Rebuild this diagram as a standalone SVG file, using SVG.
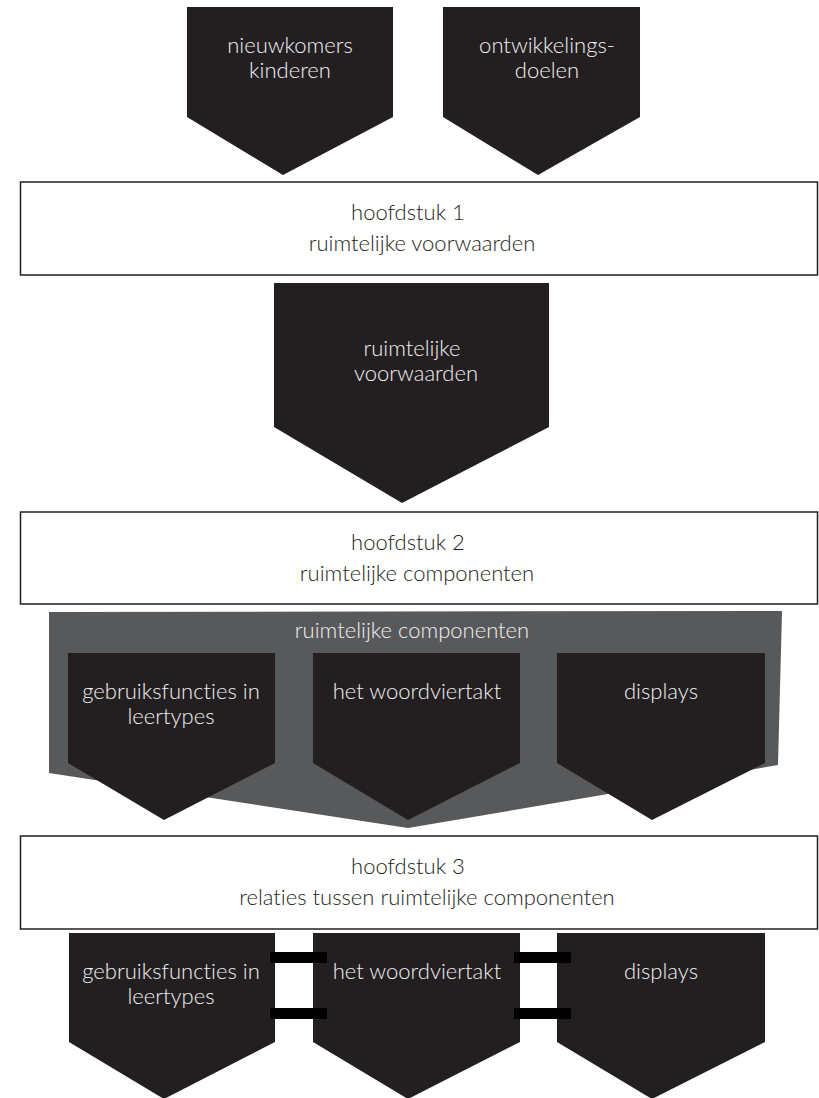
<svg xmlns="http://www.w3.org/2000/svg" width="819" height="1098" viewBox="0 0 819 1098">
<style>
.pent{fill:#231f20}
.box{fill:#ffffff;stroke:#231f20;stroke-width:1.5}
.lt,.dk{font-family:Lato,"Liberation Sans",sans-serif;font-size:22px;font-weight:300;text-anchor:middle;font-variant-ligatures:none}
.lt{fill:#f0f0f0}
.dk{fill:#231f20}
.bar{fill:#000000}
</style>
<rect width="819" height="1098" fill="#ffffff"/>
<g id="node-nieuwkomers">
<polygon class="pent" points="187,7 393,7 393,117 283,175 187,117"/>
<text class="lt" x="290" y="53">nieuwkomers</text>
<text class="lt" x="290" y="78">kinderen</text>
</g>
<g id="node-ontwikkelingsdoelen">
<polygon class="pent" points="443,7 640,7 640,117 538,175 443,117"/>
<text class="lt" x="547" y="53">ontwikkelings-</text>
<text class="lt" x="547" y="78">doelen</text>
</g>
<g id="node-hoofdstuk1">
<rect class="box" x="20.5" y="182" width="797" height="93"/>
<text class="dk" x="408" y="220">hoofdstuk 1</text>
<text class="dk" x="422" y="251">ruimtelijke voorwaarden</text>
</g>
<g id="node-ruimtelijke-voorwaarden">
<polygon class="pent" points="274,283 549,283 549,427 402,503 274,427"/>
<text class="lt" x="412" y="356">ruimtelijke</text>
<text class="lt" x="416" y="381">voorwaarden</text>
</g>
<g id="node-hoofdstuk2">
<rect class="box" x="20.5" y="512" width="797" height="92"/>
<text class="dk" x="408" y="550">hoofdstuk 2</text>
<text class="dk" x="417" y="581">ruimtelijke componenten</text>
</g>
<g id="node-ruimtelijke-componenten">
<polygon fill="#58595b" points="49,612 782,611 778,765 408,828 49,773"/>
<text class="lt" x="412" y="638">ruimtelijke componenten</text>
<g id="node-gebruiksfuncties-1">
<polygon class="pent" points="68,653 275,653 275,763 164,820 68,763"/>
<text class="lt" x="171" y="699">gebruiksfuncties in</text>
<text class="lt" x="171" y="724">leertypes</text>
</g>
<g id="node-woordviertakt-1">
<polygon class="pent" points="313,653 520,653 520,763 408,820 313,763"/>
<text class="lt" x="417" y="699">het woordviertakt</text>
</g>
<g id="node-displays-1">
<polygon class="pent" points="557,653 765,653 765,763 652,820 557,763"/>
<text class="lt" x="661" y="699">displays</text>
</g>
</g>
<g id="node-hoofdstuk3">
<rect class="box" x="20.5" y="836" width="797" height="93"/>
<text class="dk" x="408" y="874">hoofdstuk 3</text>
<text class="dk" x="427" y="905">relaties tussen ruimtelijke componenten</text>
</g>
<g id="node-gebruiksfuncties-2">
<polygon class="pent" points="69,933 275,933 275,1042 164,1099 69,1042"/>
<text class="lt" x="171" y="979">gebruiksfuncties in</text>
<text class="lt" x="171" y="1004">leertypes</text>
</g>
<g id="node-woordviertakt-2">
<polygon class="pent" points="313,933 520,933 520,1042 408,1099 313,1042"/>
<text class="lt" x="417" y="979">het woordviertakt</text>
</g>
<g id="node-displays-2">
<polygon class="pent" points="557,933 765,933 765,1042 652,1099 557,1042"/>
<text class="lt" x="661" y="979">displays</text>
</g>
<g id="connectors">
<rect class="bar" x="270" y="952" width="57" height="11"/>
<rect class="bar" x="270" y="1008" width="57" height="11"/>
<rect class="bar" x="514" y="952" width="57" height="11"/>
<rect class="bar" x="514" y="1008" width="57" height="11"/>
</g>
</svg>
